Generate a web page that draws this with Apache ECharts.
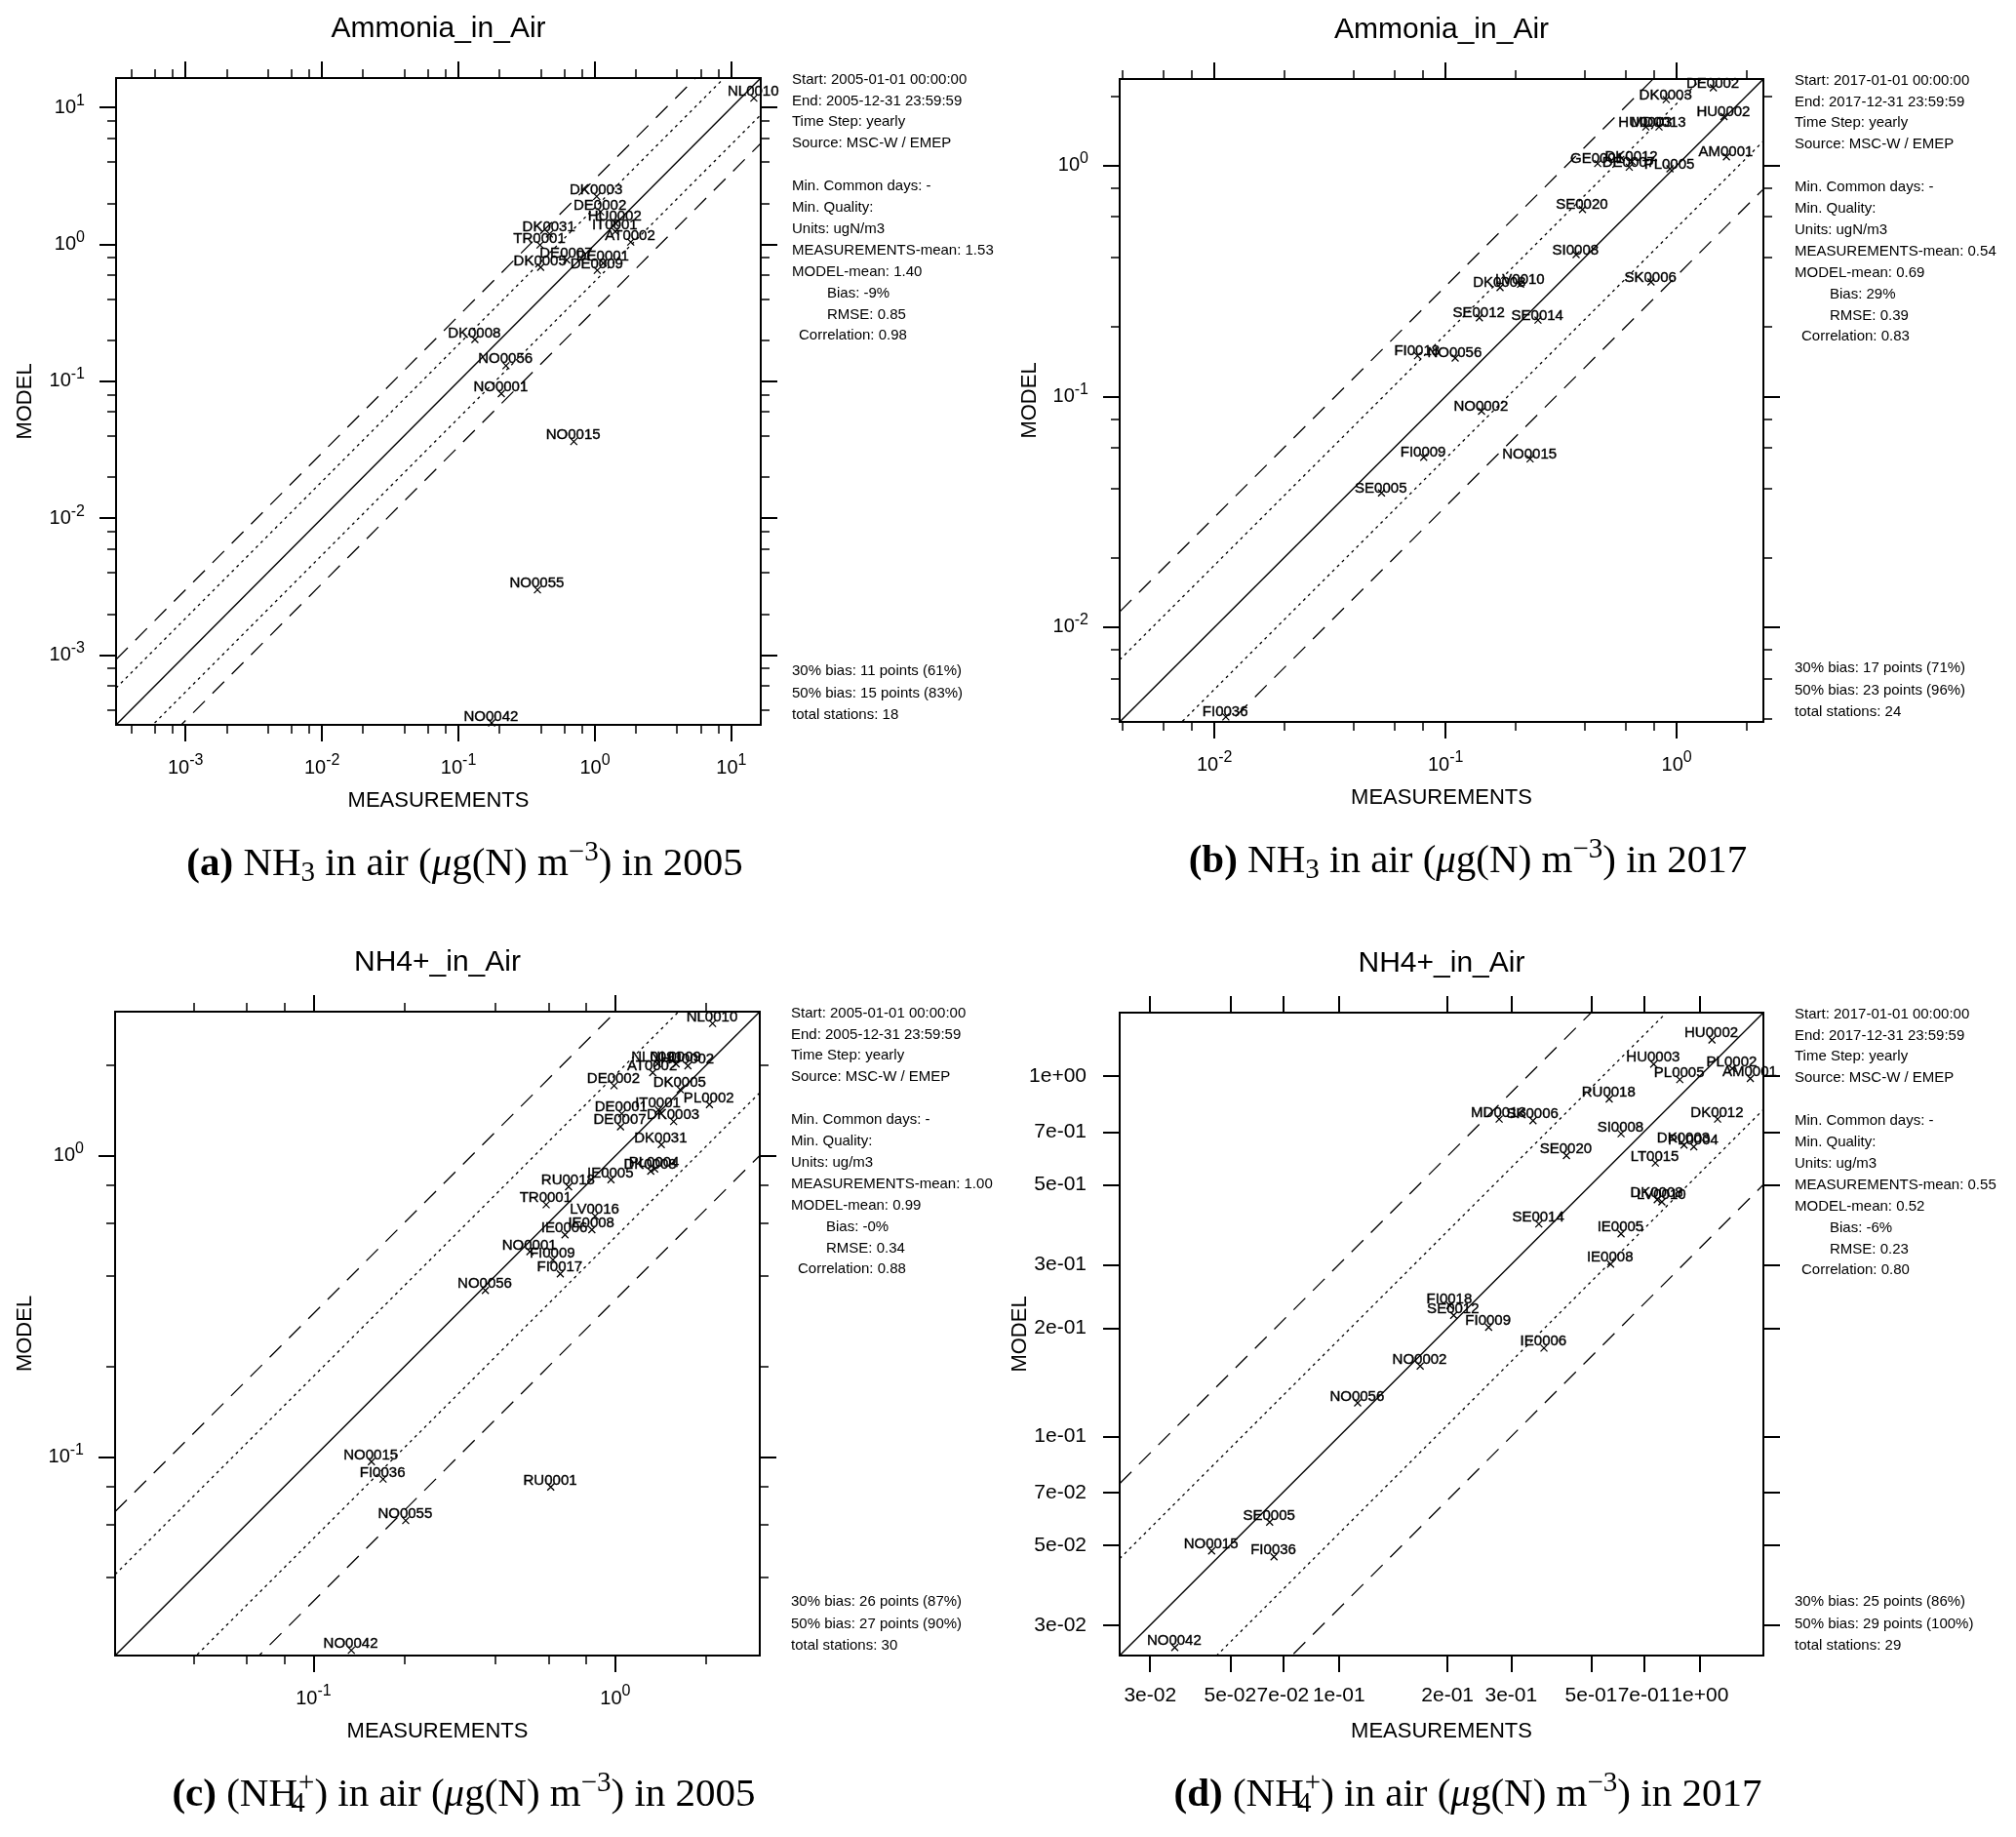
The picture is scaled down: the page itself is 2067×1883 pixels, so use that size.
<!DOCTYPE html>
<html>
<head>
<meta charset="utf-8">
<script src="https://cdn.jsdelivr.net/npm/echarts@6/dist/echarts.min.js"></script>
<style>
html,body{margin:0;padding:0;background:#fff;}
#chart{width:2067px;height:1883px;}
</style>
</head>
<body>
<div id="chart"></div>
<script>
// ---------------- DATA ----------------
// (a) NH3 in air 2005
const stationsA = ['NL0010','DK0003','DE0002','HU0002','IT0001','DK0031','TR0001','AT0002','DE0007','DK0005','DE0001','DE0009','DK0008','NO0056','NO0001','NO0015','NO0055','NO0042'];
const measA  = [14.6,1.03,1.10,1.41,1.41,0.464,0.396,1.83,0.621,0.40,1.15,1.04,0.132,0.223,0.206,0.70,0.379,0.175];
const modelA = [11.7,2.24,1.73,1.43,1.24,1.19,0.99,1.04,0.77,0.68,0.73,0.646,0.202,0.130,0.0813,0.0363,0.0030,0.00032];
const rangeA = [3.1e-4, 16.4];
const majorTicksA = [1e-3,1e-2,1e-1,1,10];

// (b) NH3 in air 2017
const stationsB = ['DE0002','DK0003','HU0003','MD0013','HU0002','AM0001','GE0001','DK0012','DE0007','PL0005','SE0020','SI0008','DK0008','LV0010','SK0006','SE0012','SE0014','FI0018','NO0056','NO0002','FI0009','NO0015','SE0005','FI0036'];
const measB  = [1.44,0.90,0.735,0.838,1.60,1.64,0.455,0.64,0.623,0.934,0.391,0.367,0.172,0.211,0.774,0.140,0.251,0.0756,0.110,0.143,0.0804,0.232,0.0528,0.0112];
const modelB = [2.17,1.93,1.47,1.47,1.63,1.09,1.02,1.04,0.984,0.968,0.645,0.411,0.296,0.306,0.313,0.219,0.214,0.150,0.1466,0.0863,0.0545,0.0536,0.0382,0.00409];
const rangeB = [0.00389, 2.37];
const majorTicksB = [1e-2,1e-1,1];

// (c) NH4+ in air 2005
const stationsC = ['NL0010','NL0091','NL0009','HU0002','AT0002','DE0002','DK0005','PL0002','IT0001','DE0001','DK0003','DE0007','DK0031','DK0008','PL0004','IE0005','RU0018','TR0001','LV0016','IE0006','IE0008','NO0001','FI0009','FI0017','NO0056','NO0015','FI0036','RU0001','NO0055','NO0042'];
const measC  = [2.10,1.38,1.59,1.74,1.33,0.99,1.64,2.05,1.39,1.05,1.56,1.04,1.42,1.31,1.35,0.967,0.70,0.59,0.857,0.681,0.836,0.521,0.621,0.657,0.371,0.1555,0.170,0.611,0.202,0.1334];
const modelC = [2.75,2.02,2.02,1.99,1.89,1.71,1.66,1.48,1.42,1.38,1.30,1.25,1.09,0.89,0.905,0.834,0.79,0.689,0.631,0.547,0.569,0.481,0.452,0.406,0.358,0.0967,0.0847,0.0797,0.0617,0.0229];
const rangeC = [0.0220, 3.01];
const majorTicksC = [1e-1,1];

// (d) NH4+ in air 2017
const stationsD = ['HU0002','HU0003','PL0002','PL0005','AM0001','RU0018','MD0013','SK0006','DK0012','SI0008','DK0003','PL0004','SE0020','LT0015','DK0008','LV0010','SE0014','IE0005','IE0008','FI0018','SE0012','FI0009','IE0006','NO0002','NO0056','SE0005','NO0015','FI0036','NO0042'];
const measD  = [1.08,0.745,1.23,0.88,1.38,0.561,0.278,0.345,1.12,0.605,0.904,0.962,0.427,0.753,0.762,0.785,0.358,0.605,0.566,0.203,0.208,0.260,0.370,0.168,0.1127,0.0643,0.0444,0.0661,0.0351];
const modelD = [1.26,1.08,1.05,0.978,0.985,0.864,0.76,0.752,0.76,0.692,0.644,0.637,0.602,0.574,0.454,0.448,0.389,0.365,0.301,0.231,0.217,0.201,0.176,0.157,0.124,0.0579,0.0482,0.0464,0.0260];
const rangeD = [0.0247, 1.50];
const tickValuesD = [0.03,0.05,0.07,0.1,0.2,0.3,0.5,0.7,1.0];
const tickLabelsD = ['3e-02','5e-02','7e-02','1e-01','2e-01','3e-01','5e-01','7e-01','1e+00'];

// reference lines: 1:1, 30% bias (1.3/0.7), 50% bias (1.5/0.5)
const lineFactors = [1, 1.3/0.7, 0.7/1.3, 1.5/0.5, 0.5/1.5];
const lineKinds   = ['solid','dotted','dotted','dashed','dashed'];
const minorMultipliers = [2,4,6,8];

// side texts
const titles = ['Ammonia_in_Air','Ammonia_in_Air','NH4+_in_Air','NH4+_in_Air'];
const years = ['2005','2017','2005','2017'];
const units = ['ugN/m3','ugN/m3','ug/m3','ug/m3'];
const measMeans = ['1.53','0.54','1.00','0.55'];
const modelMeans = ['1.40','0.69','0.99','0.52'];
const biases = ['-9%','29%','-0%','-6%'];
const rmses = ['0.85','0.39','0.34','0.23'];
const correlations = ['0.98','0.83','0.88','0.80'];
const bias30 = ['11 points (61%)','17 points (71%)','26 points (87%)','25 points (86%)'];
const bias50 = ['15 points (83%)','23 points (96%)','27 points (90%)','29 points (100%)'];
const totalStations = ['18','24','30','29'];
const captionLetters = ['a','b','c','d'];

// ---------------- LAYOUT ----------------
const FONT = "'Liberation Sans', Arial, Helvetica, sans-serif";
const SERIF = "'Liberation Serif', 'Times New Roman', serif";
const grids = [
  {left:119, top:80, width:661, height:663},
  {left:1148, top:81, width:660, height:659},
  {left:118, top:1037, width:661, height:660},
  {left:1148, top:1038, width:660, height:659}
];
const panels = [
  {st:stationsA, x:measA, y:modelA, range:rangeA, major:majorTicksA, minor:true, fmt:'pow', ylm:32, nameX:26, ldy:-6},
  {st:stationsB, x:measB, y:modelB, range:rangeB, major:majorTicksB, minor:true, fmt:'pow', ylm:32, nameX:1056, ldy:-4},
  {st:stationsC, x:measC, y:modelC, range:rangeC, major:majorTicksC, minor:true, fmt:'pow', ylm:32, nameX:26, ldy:-6},
  {st:stationsD, x:measD, y:modelD, range:rangeD, major:tickValuesD, minor:false, fmt:'e', ylm:34, nameX:1046, ldy:-6}
];

function minorTicks(range){
  const out=[];
  const k0=Math.floor(Math.log10(range[0])), k1=Math.ceil(Math.log10(range[1]));
  for(let k=k0;k<=k1;k++){
    for(const m of minorMultipliers){
      const v=Number((m*Math.pow(10,k)).toPrecision(6));
      if(v>=range[0]&&v<=range[1]) out.push(v);
    }
  }
  return out;
}
function powFormatter(v){
  const e=Math.round(Math.log10(v));
  return '{b|10}{s|'+e+'}';
}
function eFormatter(v){
  for(let i=0;i<tickValuesD.length;i++){ if(Math.abs(tickValuesD[i]-v)/v<1e-6) return tickLabelsD[i]; }
  return '';
}

const xAxes=[], yAxes=[], series=[], graphics=[];
const richPow = {
  b:{fontSize:20, fontFamily:FONT, color:'#000'},
  s:{fontSize:16, fontFamily:FONT, color:'#000', padding:[0,0,14,0]}
};

function makeAxis(gi, p, pos, vals, len, w, withLabel, isY){
  const ax = {
    type:'log', logBase:10, gridIndex:gi, position:pos,
    min:p.range[0], max:p.range[1],
    axisLine:{show:false, onZero:false},
    splitLine:{show:false}, minorTick:{show:false}, minorSplitLine:{show:false},
    axisTick:{show:true, inside:false, length:len, lineStyle:{color:'#000', width:w}, customValues:vals},
    axisPointer:{show:false}, silent:true, z:5
  };
  if(withLabel){
    ax.axisLabel = {
      show:true, customValues:vals, color:'#000', fontFamily:FONT, fontSize:21,
      margin: isY ? p.ylm : (p.fmt==='pow'?29:31),
      formatter: p.fmt==='pow'?powFormatter:eFormatter,
      rich: p.fmt==='pow'?richPow:undefined
    };
  } else {
    ax.axisLabel = {show:false};
  }
  return ax;
}

const SYM = 7;
panels.forEach((p,gi)=>{
  const g=grids[gi];
  const minors = p.minor ? minorTicks(p.range) : null;
  const xi = xAxes.length, yi = yAxes.length;
  xAxes.push(makeAxis(gi,p,'bottom',p.major,17,2,true,false));
  xAxes.push(makeAxis(gi,p,'top',p.major,17,2,false,false));
  yAxes.push(makeAxis(gi,p,'left',p.major,17,2,true,true));
  yAxes.push(makeAxis(gi,p,'right',p.major,17,2,false,true));
  if(minors){
    xAxes.push(makeAxis(gi,p,'bottom',minors,9,1.5,false,false));
    xAxes.push(makeAxis(gi,p,'top',minors,9,1.5,false,false));
    yAxes.push(makeAxis(gi,p,'left',minors,9,1.5,false,true));
    yAxes.push(makeAxis(gi,p,'right',minors,9,1.5,false,true));
  }
  // reference lines
  lineFactors.forEach((f,li)=>{
    const kind=lineKinds[li];
    series.push({
      type:'line', xAxisIndex:xi, yAxisIndex:yi, silent:true, symbol:'none', clip:true, z:2,
      data:[[p.range[0], p.range[0]*f],[p.range[1], p.range[1]*f]],
      lineStyle:{color:'#000', width: kind==='solid'?1.4:1.3,
        type: kind==='solid'?'solid':(kind==='dotted'?[3,4]:[17,11])}
    });
  });
  // stations
  series.push({
    type:'scatter', xAxisIndex:xi, yAxisIndex:yi, silent:true, z:4,
    symbol:'path://M0 0L10 10M10 0L0 10', symbolSize:SYM,
    itemStyle:{color:'transparent', borderColor:'#000', borderWidth:1.3, opacity:1},
    data:p.st.map((s,i)=>[p.x[i], p.y[i], s]),
    label:{show:true, position:[SYM/2, SYM/2+p.ldy], align:'center', verticalAlign:'middle',
      formatter:(d)=>d.value[2],
      color:'#000', opacity:1, fontFamily:FONT, fontSize:15,
      textBorderColor:'#000', textBorderWidth:0.4},
    labelLayout:{hideOverlap:false}
  });

  // texts
  const L=g.left, T=g.top, R=g.left+g.width, B=g.top+g.height, CX=L+g.width/2, CY=T+g.height/2;
  const txt=(x,y,text,size,align,extra)=>Object.assign({
    type:'text', x:x, y:y, silent:true,
    style:{text:text, font:size+'px '+FONT, fill:'#000', align:align||'left', textAlign:align||'left', verticalAlign:'middle', textVerticalAlign:'middle'}
  }, extra||{});
  graphics.push(txt(CX, T-50, titles[gi], 30, 'center'));
  graphics.push(txt(CX, B+78, 'MEASUREMENTS', 22, 'center'));
  graphics.push(txt(p.nameX, CY, 'MODEL', 22, 'center', {rotation:Math.PI/2}));
  const y0=years[gi];
  const sx=R+32, sp=21.9;
  const lines=[
    [sx,0,'Start: '+y0+'-01-01 00:00:00'],
    [sx,1,'End: '+y0+'-12-31 23:59:59'],
    [sx,2,'Time Step: yearly'],
    [sx,3,'Source: MSC-W / EMEP'],
    [sx,5,'Min. Common days: -'],
    [sx,6,'Min. Quality:'],
    [sx,7,'Units: '+units[gi]],
    [sx,8,'MEASUREMENTS-mean: '+measMeans[gi]],
    [sx,9,'MODEL-mean: '+modelMeans[gi]],
    [R+68,10,'Bias: '+biases[gi]],
    [R+68,11,'RMSE: '+rmses[gi]],
    [R+39,12,'Correlation: '+correlations[gi]]
  ];
  lines.forEach(l=>graphics.push(txt(l[0], T+1.5+sp*l[1], l[2], 15)));
  graphics.push(txt(sx, B-55, '30% bias: '+bias30[gi], 15));
  graphics.push(txt(sx, B-32.5, '50% bias: '+bias50[gi], 15));
  graphics.push(txt(sx, B-10, 'total stations: '+totalStations[gi], 15));
  // caption
  const isNH4 = gi>=2;
  const capText = '{b|('+captionLetters[gi]+')}{n| '+(isNH4?'(NH':'NH')+'}'+
    (isNH4?'{sub4|4}{sup|+}{n|)}':'{sub|3}')+
    '{n| in air (}{i|μ}{n|g(N) m}{sup|−3}{n|) in '+y0+'}';
  graphics.push({
    type:'text', x:CX+27, y:B+143, silent:true,
    style:{text:capText, fill:'#000', align:'center', textAlign:'center', verticalAlign:'middle', textVerticalAlign:'middle',
      font:'41px '+SERIF,
      rich:{
        b:{fontFamily:SERIF, fontSize:41, fontWeight:'bold', fill:'#000', color:'#000'},
        n:{fontFamily:SERIF, fontSize:41, fill:'#000', color:'#000'},
        i:{fontFamily:SERIF, fontSize:41, fontStyle:'italic', fill:'#000', color:'#000'},
        sub:{fontFamily:SERIF, fontSize:29, padding:[19,0,0,0], fill:'#000', color:'#000'},
        sub4:{fontFamily:SERIF, fontSize:29, padding:[19,0,0,0], width:1, fill:'#000', color:'#000'},
        sup:{fontFamily:SERIF, fontSize:29, padding:[0,0,24,0], fill:'#000', color:'#000'}
      }}
  });
});

const chart = echarts.init(document.getElementById('chart'), null, {renderer:'canvas'});
chart.setOption({
  backgroundColor:'#fff',
  animation:false,
  grid: grids.map(g=>Object.assign({show:true, borderColor:'#000', borderWidth:2, backgroundColor:'transparent', containLabel:false, outerBoundsMode:'none'}, g)),
  xAxis: xAxes,
  yAxis: yAxes,
  series: series,
  graphic: {elements: graphics}
});
</script>
</body>
</html>
